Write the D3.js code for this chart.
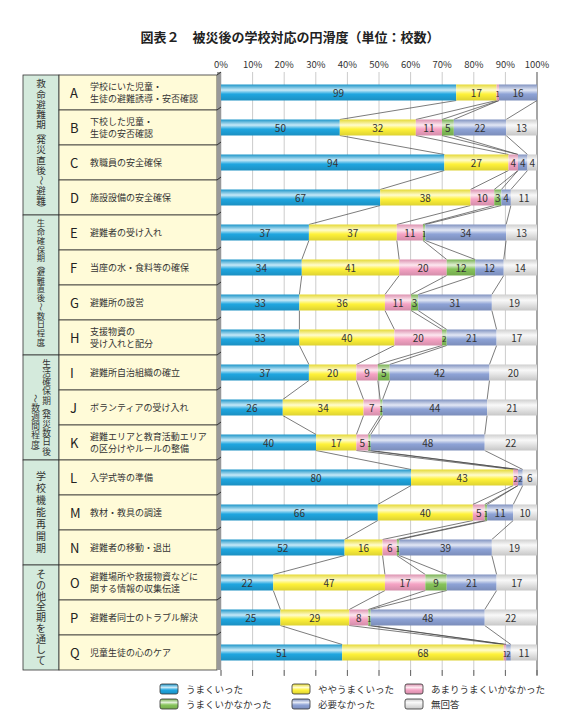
<!DOCTYPE html>
<html><head><meta charset="utf-8">
<script src="https://cdn.jsdelivr.net/npm/d3@7"></script>
<style>body{margin:0;background:#fff}text{font-family:"Noto Sans CJK JP",sans-serif}</style>
</head><body>
<script>
var width = 576, height = 723;

var letters = ["A","B","C","D","E","F","G","H","I","J","K","L","M","N","O","P","Q"];
var labels = [
  ["学校にいた児童・","生徒の避難誘導・安否確認"],
  ["下校した児童・","生徒の安否確認"],
  ["教職員の安全確保"],
  ["施設設備の安全確保"],
  ["避難者の受け入れ"],
  ["当座の水・食料等の確保"],
  ["避難所の設営"],
  ["支援物資の","受け入れと配分"],
  ["避難所自治組織の確立"],
  ["ボランティアの受け入れ"],
  [" 避難エリアと教育活動エリア","の区分けやルールの整備"],
  ["入学式等の準備"],
  ["教材・教具の調達"],
  ["避難者の移動・退出"],
  ["避難場所や救援物資などに","関する情報の収集伝達"],
  ["避難者同士のトラブル解決"],
  ["児童生徒の心のケア"]
];
var series = ["うまくいった","ややうまくいった","あまりうまくいかなかった","うまくいかなかった","必要なかった","無回答"];
var umaku     = [99,50,94,67,37,34,33,33,37,26,40,80,66,52,22,25,51];
var yaya      = [17,32,27,38,37,41,36,40,20,34,17,43,40,16,47,29,68];
var amari     = [1,11,4,10,11,20,11,20,9,7,5,2,5,6,17,8,1];
var ikanakatta= [0,5,0,3,1,12,3,2,5,1,1,0,1,1,9,1,0];
var hitsuyou  = [16,22,4,4,34,12,31,21,42,44,48,2,11,39,21,48,2];
var mukaitou  = [0,13,4,11,13,14,19,17,20,21,22,6,10,19,17,22,11];
var groups = [
  {cols:["救命避難期（発災直後～避難）"], from:0, to:3},
  {cols:["生命確保期（避難直後～数日程度）"], from:4, to:7},
  {cols:["生活確保期（発災数日後","～数週間程度）"], from:8, to:10},
  {cols:["学校機能再開期"], from:11, to:13},
  {cols:["その他全期を通して"], from:14, to:16}
];
var ticks = [0,10,20,30,40,50,60,70,80,90,100];
var colors = ["#1fa6e0","#fff23a","#f5a3c4","#86c45a","#8ea3d6","#e6e6e6"];

var values = [umaku,yaya,amari,ikanakatta,hitsuyou,mukaitou];
var rows = letters.map(function(l,i){
  var r = {letter:l, label:labels[i]};
  series.forEach(function(s,j){ r[s] = values[j][i]; });
  return r;
});
var stacked = d3.stack().keys(series)(rows);
var total = 133;

var x = d3.scaleLinear().domain([0,100]).range([221,537]);
var y = d3.scaleBand().domain(letters).range([75,670]).paddingInner(0).paddingOuter(0);
var barH = 16;

var svg = d3.select("body").append("svg").attr("width",width).attr("height",height);
var defs = svg.append("defs");
colors.forEach(function(c,i){
  var g = defs.append("linearGradient").attr("id","g"+i).attr("x1",0).attr("y1",0).attr("x2",0).attr("y2",1);
  var cc = d3.color(c);
  g.append("stop").attr("offset","0%").attr("stop-color",cc.darker(0.3));
  g.append("stop").attr("offset","35%").attr("stop-color",d3.interpolateRgb(c,"#fff")(0.75));
  g.append("stop").attr("offset","60%").attr("stop-color",c);
  g.append("stop").attr("offset","100%").attr("stop-color",cc.darker(0.4));
});

svg.append("text").attr("x",290).attr("y",42).attr("text-anchor","middle")
  .attr("font-size",13).attr("font-weight","bold").attr("fill","#222")
  .text("図表２　被災後の学校対応の円滑度（単位：校数）");

// grid + axis labels
svg.append("g").selectAll("line").data(ticks).enter().append("line")
  .attr("x1",function(d){return x(d);}).attr("x2",function(d){return x(d);})
  .attr("y1",72).attr("y2",675)
  .attr("stroke",function(d){return d===100?"#888":"#ccc";})
  .attr("stroke-width",function(d){return d===100?1.5:1;});
svg.append("g").selectAll("text").data(ticks).enter().append("text")
  .attr("x",function(d){return x(d);}).attr("y",68).attr("text-anchor","middle")
  .attr("font-size",9.5).attr("fill","#333").text(function(d){return d+"%";});

// table
var tbl = svg.append("g");
var halfChars = "（）";
function weight(ch){ return halfChars.indexOf(ch) >= 0 ? 0.55 : 1; }
function colWeight(s){ return d3.sum(s.split(""), weight); }
groups.forEach(function(g){
  var y0 = y(letters[g.from]), y1 = y(letters[g.to]) + y.bandwidth();
  tbl.append("rect").attr("x",23).attr("y",y0).attr("width",36).attr("height",y1-y0)
    .attr("fill","#d4eadc").attr("stroke","#333").attr("stroke-width",0.8);
  var n = g.cols.length;
  var maxW = d3.max(g.cols, colWeight);
  var step = Math.min(12, (y1-y0-8)/maxW);
  var fs = Math.min(10, step*0.95);
  g.cols.forEach(function(col,ci){
    var cx = 41 + (n > 1 ? (0.5-ci)*11 : 0);
    var pos = n > 1 ? y0 + 4 + ci*3.8*step : (y0+y1)/2 - colWeight(col)*step/2;
    col.split("").forEach(function(ch){
      var h = weight(ch)*step;
      var cy = pos + h/2;
      pos += h;
      var t = tbl.append("text").attr("x",cx).attr("y",cy).attr("dy","0.36em")
        .attr("text-anchor","middle").attr("font-size",fs).attr("fill","#333").text(ch);
      if ("（）～".indexOf(ch) >= 0) t.attr("transform","rotate(90,"+cx+","+cy+")");
    });
  });
});
rows.forEach(function(r){
  var y0 = y(r.letter);
  tbl.append("rect").attr("x",59).attr("y",y0).attr("width",158).attr("height",y.bandwidth())
    .attr("fill","#fffbd8").attr("stroke","#333").attr("stroke-width",0.8);
  tbl.append("text").attr("x",70).attr("y",y0+y.bandwidth()/2+5).attr("font-size",13).attr("fill","#222").text(r.letter);
  r.label.forEach(function(t,k){
    tbl.append("text").attr("x",90)
      .attr("y",y0+y.bandwidth()/2+3.5+(k-(r.label.length-1)/2)*12)
      .attr("font-size",9).attr("fill","#333").text(t);
  });
});
// 3D edge
svg.append("rect").attr("x",217).attr("y",72).attr("width",4).attr("height",598).attr("fill","#999");
rows.forEach(function(r){
  svg.append("line").attr("x1",217).attr("x2",221).attr("y1",y(r.letter)).attr("y2",y(r.letter)-3).attr("stroke","#333");
});

// connectors
var cum = rows.map(function(r){
  var s = 0, arr = [];
  series.forEach(function(k){ s += r[k]; arr.push(s); });
  return arr;
});
var con = svg.append("g").attr("stroke","#444").attr("stroke-width",0.7);
for (var i = 0; i < rows.length-1; i++) {
  for (var j = 0; j < series.length-1; j++) {
    con.append("line")
      .attr("x1",x(cum[i][j]/total*100)).attr("y1",y(letters[i])+y.bandwidth()/2+barH/2)
      .attr("x2",x(cum[i+1][j]/total*100)).attr("y2",y(letters[i+1])+y.bandwidth()/2-barH/2);
  }
}

// bars
stacked.forEach(function(s,j){
  var g = svg.append("g");
  g.selectAll("rect").data(s).enter().append("rect")
    .attr("x",function(d){return x(d[0]/total*100);})
    .attr("width",function(d){return x(d[1]/total*100)-x(d[0]/total*100);})
    .attr("y",function(d){return y(d.data.letter)+y.bandwidth()/2-barH/2;})
    .attr("height",barH).attr("fill","url(#g"+j+")");
  g.selectAll("text").data(s.filter(function(d){return d[1]-d[0]>0;})).enter().append("text")
    .attr("x",function(d){return x((d[0]+d[1])/2/total*100);})
    .attr("y",function(d){return y(d.data.letter)+y.bandwidth()/2+4;})
    .attr("text-anchor","middle").attr("font-size",function(d){return d[1]-d[0]<3?8:10;})
    .attr("fill","#333").text(function(d){return d[1]-d[0];});
});

// bottom ticks
svg.append("g").selectAll("line").data(ticks).enter().append("line")
  .attr("x1",function(d){return x(d);}).attr("x2",function(d){return x(d);})
  .attr("y1",670).attr("y2",676).attr("stroke","#666");

// legend
var lg = svg.append("g");
series.forEach(function(s,i){
  var lx = [160,292,405][i%3], ly = [689,704][Math.floor(i/3)];
  lg.append("rect").attr("x",lx).attr("y",ly-5).attr("width",18).attr("height",10).attr("rx",2)
    .attr("fill","url(#g"+i+")").attr("stroke","#333").attr("stroke-width",0.8);
  lg.append("text").attr("x",lx+26).attr("y",ly+4).attr("font-size",9.5).attr("fill","#333").text(s);
});
</script>
</body></html>
